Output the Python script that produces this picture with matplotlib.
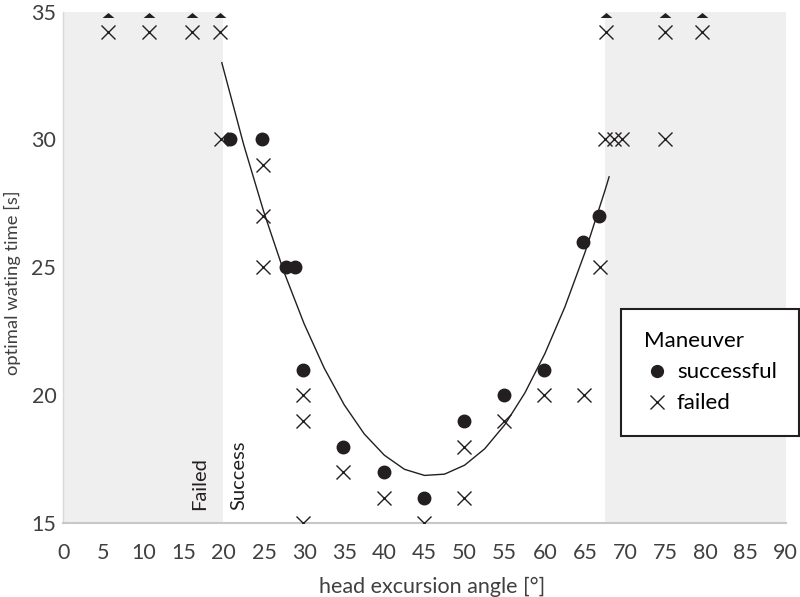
import matplotlib
matplotlib.use("Agg")
import matplotlib.pyplot as plt

# successful manoeuvres (dots)
succ_x = [20.8, 24.8, 27.8, 28.9, 29.9, 34.9, 39.9, 44.9, 49.9, 54.9, 59.9, 64.8, 66.8]
succ_y = [30, 30, 25, 25, 21, 18, 17, 16, 19, 20, 21, 26, 27]

# failed manoeuvres (crosses)
fail_x = [19.6, 24.9, 24.9, 24.9, 29.9, 29.9, 29.9, 34.9, 39.9, 44.9, 49.9, 49.9,
          54.9, 59.9, 64.9, 66.9, 67.5, 68.6, 69.6, 75.0]
fail_y = [30, 29, 27, 25, 20, 19, 15, 17, 16, 15, 18, 16,
          19, 20, 20, 25, 30, 30, 30, 30]

# failed, waiting time beyond axis (cross + arrow head at top)
over_x = [5.6, 10.7, 16.0, 19.5, 67.6, 75.0, 79.6]
over_y = [34.2, 34.2, 34.2, 34.2, 34.2, 34.2, 34.2]
arrow_y = [34.85, 34.85, 34.85, 34.85, 34.85, 34.85, 34.85]

# trend curve
curve_x = [19.75, 22.5, 25, 27.5, 30, 32.5, 35, 37.5, 40, 42.5, 45, 47.5,
           50, 52.5, 55, 57.5, 60, 62.5, 65, 67.5, 68]
curve_y = [33.0, 29.77, 27.15, 24.82, 22.80, 21.07, 19.63, 18.49, 17.66, 17.11, 16.87, 16.92,
           17.27, 17.91, 18.85, 20.09, 21.63, 23.46, 25.59, 28.02, 28.54]

# shaded "failed" zones
zones = [(0, 19.9), (67.5, 90)]

x_ticks = list(range(0, 91, 5))
y_ticks = [15, 20, 25, 30, 35]

plt.rcParams['font.family'] = ['Lato', 'DejaVu Sans']
ink = '#231f20'
grey_txt = '#404040'

fig = plt.figure(figsize=(8, 5.97), dpi=100)
ax = fig.add_axes([0.0791, 0.1235, 0.9030, 0.8572])

for a, b in zones:
    ax.axvspan(a, b, color='#efefef', lw=0, zorder=0)

ax.plot(curve_x, curve_y, color=ink, lw=1.0, zorder=2)
ax.plot(succ_x, succ_y, ls='none', marker='o', ms=9, color=ink, zorder=3)
ax.plot(fail_x, fail_y, ls='none', marker='x', ms=10, mew=1.0, color=ink, zorder=3)
ax.plot(over_x, over_y, ls='none', marker='x', ms=10, mew=1.0, color=ink, zorder=3)
tri = [(-1, -0.42), (1, -0.42), (0, 0.42)]
ax.plot(over_x, arrow_y, ls='none', marker=tri, ms=8.5, mew=0, color=ink, zorder=3,
        clip_on=False)

ax.set_xlim(0, 90)
ax.set_ylim(15, 35)
ax.set_xticks(x_ticks)
ax.set_yticks(y_ticks)
ax.tick_params(length=0, labelsize=15.5, labelcolor=grey_txt)
ax.tick_params(axis='x', pad=14)
ax.tick_params(axis='y', pad=5)

for s in ['top', 'right']:
    ax.spines[s].set_visible(False)
ax.spines['left'].set_color('#d9d9d9')
ax.spines['left'].set_linewidth(1.0)
ax.spines['bottom'].set_color('#c8c8c8')
ax.spines['bottom'].set_linewidth(1.5)

ax.set_xlabel('head excursion angle [°]', fontsize=15.5, color=grey_txt)
ax.xaxis.set_label_coords(0.51, -0.105)
ax.set_ylabel('optimal wating time [s]', fontsize=13.2, color=grey_txt)
ax.yaxis.set_label_coords(-0.058, 0.47)

ax.text(18.0, 15.5, 'Failed', rotation=90, ha='right', va='bottom', fontsize=14.5, color=ink)
ax.text(20.8, 15.5, 'Success', rotation=90, ha='left', va='bottom', fontsize=14.5, color=ink)

h1, = ax.plot([], [], ls='none', marker='o', ms=8.5, color=ink)
h2, = ax.plot([], [], ls='none', marker='x', ms=10, mew=1.0, color=ink)
leg = ax.legend([h1, h2], ['successful', 'failed'], title='Maneuver',
                loc='upper right', bbox_to_anchor=(0.99875, 0.4824),
                bbox_transform=fig.transFigure, fontsize=16, title_fontsize=16,
                alignment='left', frameon=True, fancybox=False,
                handlelength=1.2, handletextpad=0.3, borderpad=1.0,
                labelspacing=0.5, borderaxespad=0)
leg.get_frame().set_edgecolor(ink)
leg.get_frame().set_linewidth(1.5)
leg.get_frame().set_facecolor('white')
leg.get_frame().set_alpha(1)

fig.savefig('out.png', dpi=100)
